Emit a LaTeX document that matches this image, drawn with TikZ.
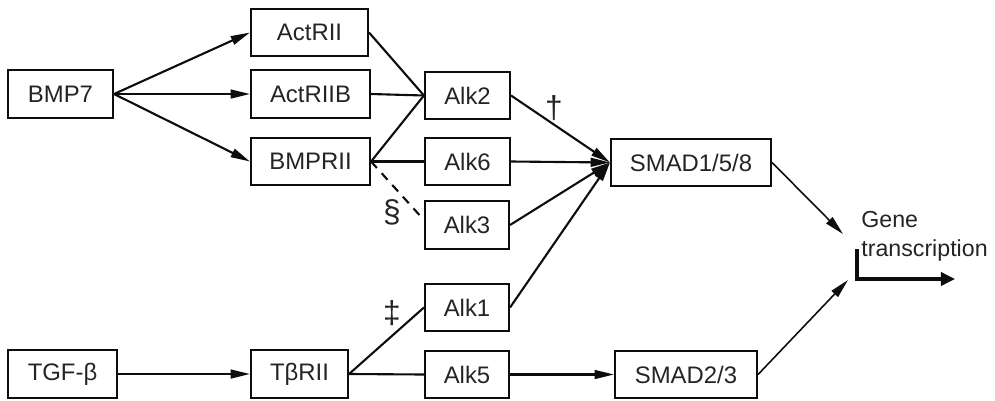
\documentclass[tikz,border=0pt]{standalone}
\usepackage{fontspec}
\setmainfont{Liberation Sans}
\usetikzlibrary{arrows.meta, positioning}
\definecolor{lineBlack}{gray}{0.05}
\definecolor{textBlack}{gray}{0.14}
\tikzset{
  box/.style={draw=lineBlack, line width=1.2pt, minimum height=0.95cm, inner sep=0pt,
    text=textBlack, font=\fontsize{13.6}{15}\selectfont},
  mark label/.style={text=textBlack, inner sep=0pt, font=\fontsize{18}{20}\selectfont},
  link/.style={lineBlack, line width=1.2pt},
  arr/.style={link, -{Triangle[length=11pt,width=5pt]}},
  thinarr/.style={lineBlack, line width=0.9pt, -{Triangle[length=11pt,width=5pt]}},
}
\begin{document}
\begin{tikzpicture}[x=0.02cm, y=-0.02cm]
    \useasboundingbox (0,0) rectangle (995,400);

    % ligands and type II receptors
    \node[box, minimum width=2.1cm] (bmp) at (60.5,94) {BMP7};
    \node[box, minimum width=2.18cm] (tgf) at (62.5,374) {TGF-β};
    \node[box, minimum width=2.34cm] (actrii) at (309.5,32.5) {ActRII};
    \node[box, minimum width=2.38cm] (actriib) at (310.5,94) {ActRIIB};
    \node[box, minimum width=2.38cm] (bmprii) at (310.5,161.5) {BMPRII};
    \node[box, minimum width=1.94cm] (tbrii) at (299.5,374) {TβRII};

    % type I receptors
    \node[box, minimum width=1.7cm] (alk2) at (467.5,95.5) {Alk2};
    \node[box, minimum width=1.7cm] (alk6) at (467.5,161.5) {Alk6};
    \node[box, minimum width=1.68cm] (alk3) at (467,225) {Alk3};
    \node[box, minimum width=1.68cm] (alk1) at (467,307.5) {Alk1};
    \node[box, minimum width=1.68cm] (alk5) at (467,374.5) {Alk5};

    % smads
    \node[box, minimum width=3.2cm] (smad158) at (691,162.5) {SMAD1/5/8};
    \node[box, minimum width=2.84cm] (smad23) at (686,374.5) {SMAD2/3};

    % gene transcription
    \node[text=textBlack, inner sep=0pt, anchor=north west, align=left, font=\fontsize{13.2}{16.4}\selectfont] (gene) at (861,211) {Gene\\transcription};
    \coordinate (g1) at (843,234);
    \coordinate (g2) at (848,280);
    \coordinate (gt1) at (857,249);
    \coordinate (gt2) at (955,279);

    % marks
    \node[mark label] (dag) at (554,108) {†};
    \node[mark label] (sect) at (392,212) {§};
    \node[mark label] (ddag) at (392,313) {‡};

    % Arrows
    \draw[arr] (bmp.east) -- (actrii.west); \draw[arr] (bmp.east) -- (actriib.west); \draw[arr] (bmp.east) -- (bmprii.west);
    \draw[arr] (tgf) -- (tbrii);
    \draw[link] (actrii.east) -- (alk2.west); \draw[link] (actriib.east) -- (alk2.west); \draw[link] (bmprii.east) -- (alk2.west);
    \draw[link] (bmprii.east) -- (alk6.west);
    \draw[link, dashed, dash pattern=on 5pt off 4pt] (bmprii.east) -- ([yshift=0.1cm]alk3.west);
    \draw[link] (tbrii.east) -- (alk1.west); \draw[link] (tbrii.east) -- (alk5.west);
    \draw[arr] (alk2.east) -- (smad158.west); \draw[arr] (alk6.east) -- (smad158.west);
    \draw[arr] (alk3.east) -- (smad158.west); \draw[arr] (alk1.east) -- (smad158.west);
    \draw[arr] (alk5) -- (smad23);
    \draw[thinarr] (smad158.east) -- (g1); \draw[thinarr] (smad23.east) -- (g2);
    \draw[lineBlack, line width=1.8pt, -{Triangle[length=8pt,width=7.5pt]}] (gt1) |- (gt2);
\end{tikzpicture}
\end{document}
